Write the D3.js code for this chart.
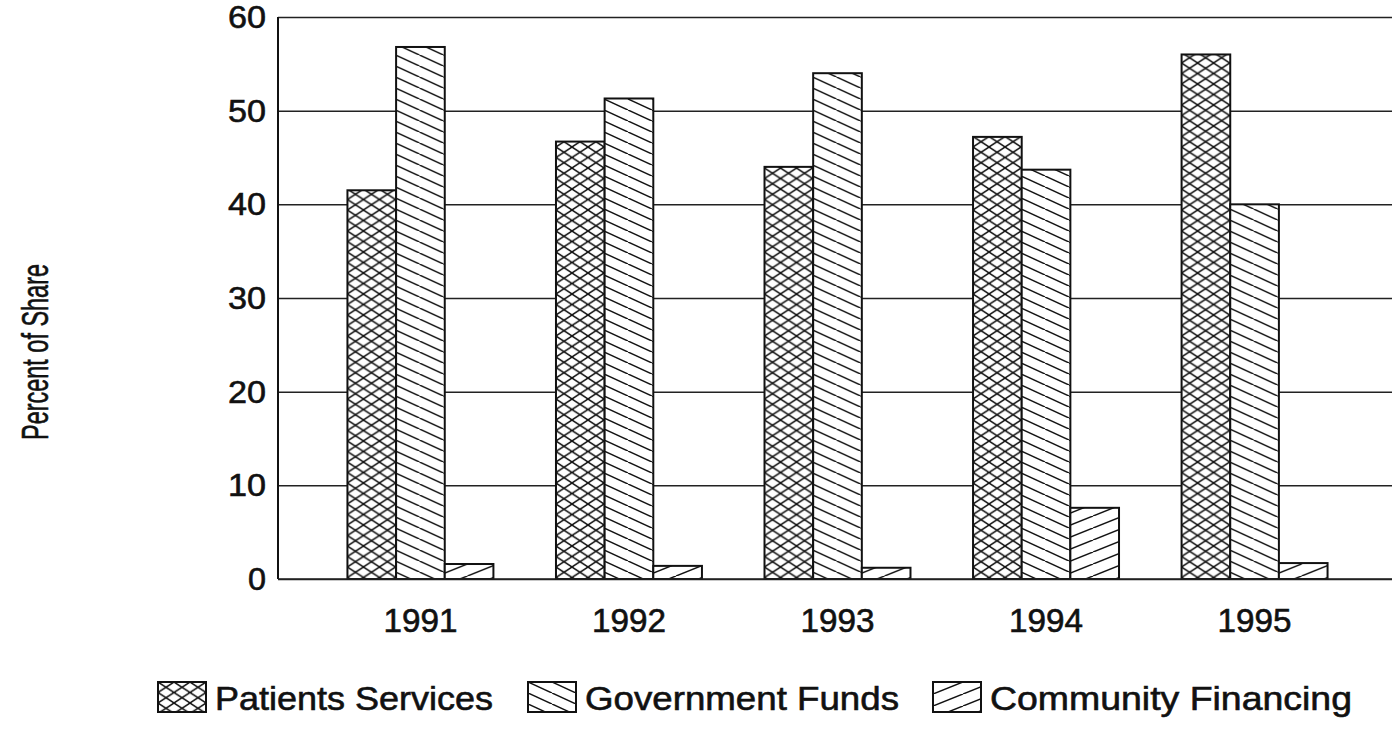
<!DOCTYPE html>
<html>
<head>
<meta charset="utf-8">
<script src="https://cdn.jsdelivr.net/npm/d3@7"></script>
<style>
  html, body { margin: 0; padding: 0; background: #fff; }
  svg { display: block; }
  text { font-family: "Liberation Sans", Arial, sans-serif; fill: #111; stroke: #111; stroke-width: 0.6px; }
</style>
</head>
<body>
<svg id="chart" width="1392" height="731"></svg>
<script>
// ---- data ----
const years = ["1991", "1992", "1993", "1994", "1995"];
const seriesNames = ["Patients Services", "Government Funds", "Community Financing"];
const patientsServices = [41.5, 46.7, 44.0, 47.2, 56.0];
const governmentFunds = [56.8, 51.3, 54.0, 43.7, 40.0];
const communityFinancing = [1.6, 1.4, 1.2, 7.6, 1.7];
const yTicks = [0, 10, 20, 30, 40, 50, 60];
const yLabel = "Percent of Share";

(function () {
const seriesValues = [patientsServices, governmentFunds, communityFinancing];
const patternIds = ["pCross", "pBack", "pFwd"];

const svg = d3.select("#chart");
const W = 1392, H = 731;
const mLeft = 278, mTop = 17, mBottom = 579, mRight = 1397;

// ---- patterns ----
const defs = svg.append("defs");
function linePattern(id, w, h, dir) {
  const p = defs.append("pattern").attr("id", id)
    .attr("patternUnits", "userSpaceOnUse").attr("width", w).attr("height", h);
  p.append("rect").attr("width", w).attr("height", h).attr("fill", "#fff");
  const segs = [];
  for (const dx of [-w, 0, w]) {
    if (dir === "back" || dir === "cross") segs.push([dx, 0, dx + w, h]);
    if (dir === "fwd" || dir === "cross") segs.push([dx, h, dx + w, 0]);
  }
  p.selectAll("line").data(segs).join("line")
    .attr("x1", d => d[0]).attr("y1", d => d[1])
    .attr("x2", d => d[2]).attr("y2", d => d[3])
    .attr("stroke", "#111").attr("stroke-width", 1.5);
}
linePattern("pCross", 16, 10.5, "cross");
linePattern("pBack", 24, 11, "back");
linePattern("pFwd", 30, 12, "fwd");

// ---- scales ----
const y = d3.scaleLinear().domain([0, 60]).range([mBottom, mTop]);
const x0 = d3.scaleBand().domain(years).range([mLeft, mRight])
  .paddingInner(0.30).paddingOuter(0.333);
const x1 = d3.scaleBand().domain(d3.range(seriesNames.length)).range([0, x0.bandwidth()]);

// ---- gridlines ----
const gridAxis = d3.axisLeft(y).tickValues(yTicks).tickSize(-(W - mLeft + 5)).tickFormat("");
const g = svg.append("g").attr("transform", `translate(${mLeft},0)`).call(gridAxis);
g.select(".domain").remove();
g.selectAll(".tick line").attr("stroke", "#222").attr("stroke-width", 1.5);

// left axis line
svg.append("line").attr("x1", mLeft).attr("x2", mLeft)
  .attr("y1", y(60)).attr("y2", y(0)).attr("stroke", "#111").attr("stroke-width", 2);

// y tick labels
svg.append("g").selectAll("text").data(yTicks).join("text")
  .attr("x", 266).attr("y", d => y(d) + 11)
  .attr("text-anchor", "end").attr("font-size", 31)
  .attr("textLength", d => String(d).length === 1 ? 18 : 38)
  .attr("lengthAdjust", "spacingAndGlyphs")
  .text(d => d);

// ---- bars ----
const groups = svg.append("g").selectAll("g").data(years).join("g")
  .attr("transform", d => `translate(${x0(d)},0)`);
groups.selectAll("rect")
  .data((yr, i) => seriesValues.map((vals, s) => ({ s, v: vals[i] })))
  .join("rect")
  .attr("x", d => x1(d.s)).attr("width", x1.bandwidth())
  .attr("y", d => y(d.v)).attr("height", d => y(0) - y(d.v))
  .attr("fill", d => `url(#${patternIds[d.s]})`)
  .attr("stroke", "#111").attr("stroke-width", 2);

// baseline
svg.append("line").attr("x1", mLeft).attr("x2", W)
  .attr("y1", y(0)).attr("y2", y(0)).attr("stroke", "#222").attr("stroke-width", 1.5);

// x labels
svg.append("g").selectAll("text").data(years).join("text")
  .attr("x", d => x0(d) + x0.bandwidth() / 2)
  .attr("y", 632)
  .attr("text-anchor", "middle").attr("font-size", 33)
  .attr("textLength", 74).attr("lengthAdjust", "spacingAndGlyphs")
  .text(d => d);

// y axis title
svg.append("text")
  .attr("transform", "translate(48,352) rotate(-90)")
  .attr("text-anchor", "middle").attr("font-size", 37)
  .attr("textLength", 176).attr("lengthAdjust", "spacingAndGlyphs")
  .text(yLabel);

// ---- legend ----
const legendX = [158, 528, 933];
const legendTextLen = [278, 314, 362];
const leg = svg.append("g").selectAll("g").data(seriesNames).join("g")
  .attr("transform", (d, i) => `translate(${legendX[i]},682)`);
leg.append("rect").attr("width", 48).attr("height", 30)
  .attr("fill", (d, i) => `url(#${patternIds[i]})`)
  .attr("stroke", "#111").attr("stroke-width", 2);
leg.append("text").attr("x", 57).attr("y", 28)
  .attr("font-size", 33)
  .attr("textLength", (d, i) => legendTextLen[i]).attr("lengthAdjust", "spacingAndGlyphs")
  .text(d => d);
})();
</script>
</body>
</html>
